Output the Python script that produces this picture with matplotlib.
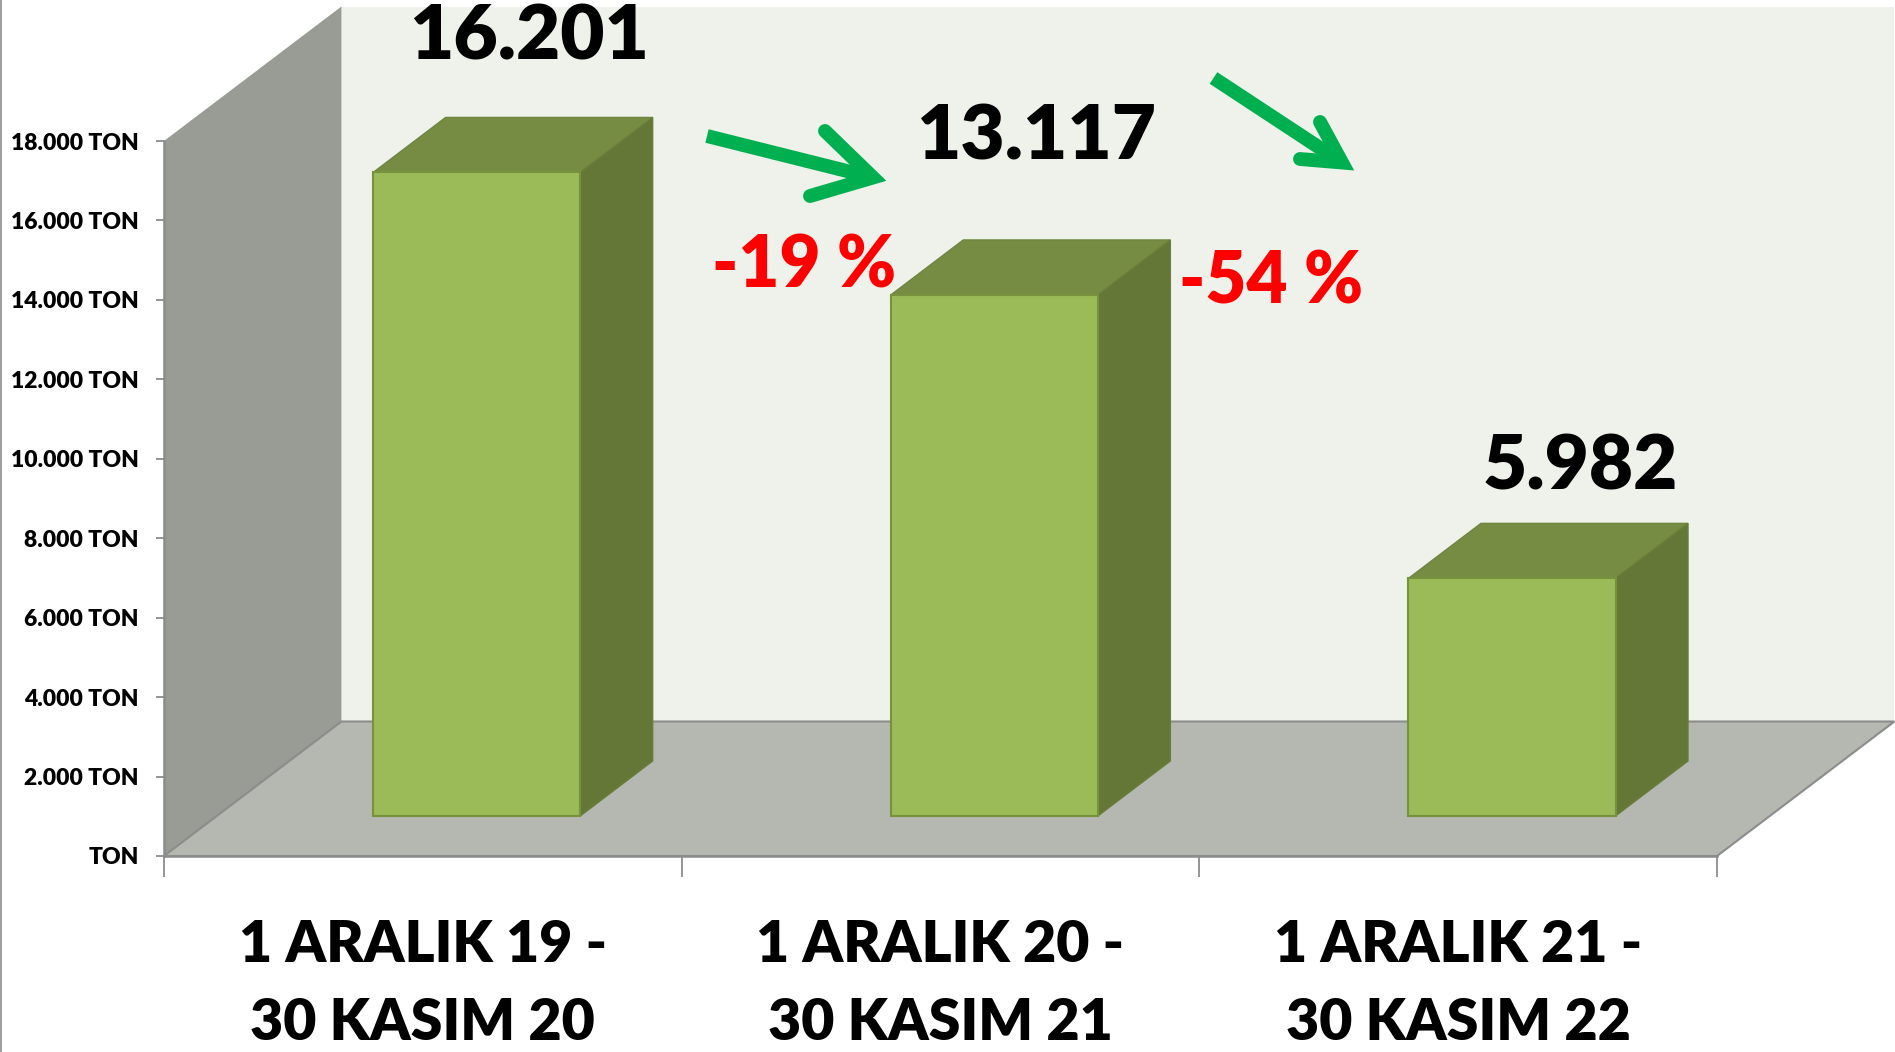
import matplotlib
matplotlib.use('Agg')
import matplotlib.pyplot as plt
from matplotlib.lines import Line2D
from matplotlib.patches import Polygon

plt.rcParams['font.family'] = ['Lato', 'DejaVu Sans']
plt.rcParams['font.weight'] = 'bold'

categories = ['1 ARALIK 19 -\n30 KASIM 20', '1 ARALIK 20 -\n30 KASIM 21', '1 ARALIK 21 -\n30 KASIM 22']
values = [16201, 13117, 5982]
y_ticks = [0, 2000, 4000, 6000, 8000, 10000, 12000, 14000, 16000, 18000]
y_labels = ['TON', '2.000 TON', '4.000 TON', '6.000 TON', '8.000 TON',
            '10.000 TON', '12.000 TON', '14.000 TON', '16.000 TON', '18.000 TON']
changes = ['-19 %', '-54 %']

W, H = 1895, 1052

# 3D look, in data units
ROOM_DX, ROOM_DY = 0.3427, 3386
BAR_DX, BAR_DY = 0.14, 1385
BAR_W, BAR_SHIFT, BAR_BASE = 0.4, 0.104, 1007


def fig_xy(px, py):
    return px / W, 1 - py / H


def draw_arrow(fig, start, tip, barb1, barb2):
    # shaft plus a mitred head with rounded barb ends
    green = '#00B050'
    fig.add_artist(Line2D([start[0] / W, tip[0] / W], [1 - start[1] / H, 1 - tip[1] / H],
                          color=green, lw=10, solid_capstyle='butt'))
    fig.add_artist(Line2D([barb1[0] / W, tip[0] / W, barb2[0] / W],
                          [1 - barb1[1] / H, 1 - tip[1] / H, 1 - barb2[1] / H],
                          color=green, lw=10, solid_capstyle='round', solid_joinstyle='miter'))


fig = plt.figure(figsize=(W / 100, H / 100), dpi=100)
ax = fig.add_axes([164 / W, 1 - 856 / H, (1717 - 164) / W, (856 - 141) / H])
ax.set_xlim(-0.5, 2.5)
ax.set_ylim(0, 18000)
ax.patch.set_visible(False)

x0, x1 = ax.get_xlim()
y1 = ax.get_ylim()[1]

# back wall, side wall, floor
ax.add_patch(Polygon([(x0 + ROOM_DX, ROOM_DY), (x1 + ROOM_DX, ROOM_DY),
                      (x1 + ROOM_DX, y1 + ROOM_DY), (x0 + ROOM_DX, y1 + ROOM_DY)],
                     facecolor='#EFF2EB', edgecolor='none', clip_on=False, zorder=0))
ax.add_patch(Polygon([(x0, 0), (x0 + ROOM_DX, ROOM_DY), (x0 + ROOM_DX, y1 + ROOM_DY), (x0, y1)],
                     facecolor='#999C94', edgecolor='none', clip_on=False, zorder=1))
ax.add_patch(Polygon([(x0, 0), (x1, 0), (x1 + ROOM_DX, ROOM_DY), (x0 + ROOM_DX, ROOM_DY)],
                     facecolor='#B5B8B0', edgecolor='#8C8C8C', lw=1.5, clip_on=False, zorder=1))

# bars
xs = [i + BAR_SHIFT for i in range(len(values))]
ax.bar(xs, values, width=BAR_W, bottom=BAR_BASE, color='#9BBB59', edgecolor='#76923C', linewidth=1.5, zorder=4)
for x, v in zip(xs, values):
    left, right = x - BAR_W / 2, x + BAR_W / 2
    top = BAR_BASE + v
    ax.add_patch(Polygon([(left, top), (right, top), (right + BAR_DX, top + BAR_DY), (left + BAR_DX, top + BAR_DY)],
                         facecolor='#768C43', edgecolor='#708540', lw=1, zorder=3, clip_on=False))
    ax.add_patch(Polygon([(right, BAR_BASE), (right + BAR_DX, BAR_BASE + BAR_DY),
                          (right + BAR_DX, top + BAR_DY), (right, top)],
                         facecolor='#647736', edgecolor='#6A7E3A', lw=1, zorder=3, clip_on=False))

# axes
for side in ['top', 'right']:
    ax.spines[side].set_visible(False)
for side in ['left', 'bottom']:
    ax.spines[side].set_color('#8C8C8C')
    ax.spines[side].set_linewidth(1.8)
    ax.spines[side].set_zorder(2)
ax.set_yticks(y_ticks)
ax.set_yticklabels(y_labels, fontsize=16.5, fontweight='heavy', color='black')
ax.tick_params(axis='y', length=6, width=1.3, color='#8C8C8C', pad=12)
ax.set_xticks(range(len(categories)))
ax.set_xticklabels(categories, fontsize=41.2, fontweight='heavy', color='black', linespacing=1.62)
ax.set_xticks([-0.5, 0.5, 1.5, 2.5], minor=True)
ax.tick_params(axis='x', which='major', length=0, pad=45)
ax.tick_params(axis='x', which='minor', length=15, width=1.3, color='#8C8C8C')

# value labels above the bars
label_pos = [(529, 60), (1036, 160), (1580, 489)]
for v, (px, py) in zip(values, label_pos):
    fx, fy = fig_xy(px, py)
    fig.text(fx, fy, f'{v:,}'.replace(',', '.'), fontsize=55, fontweight='heavy',
             color='black', ha='center', va='baseline')

# percent changes and arrows
change_pos = [(804, 288), (1271, 303)]
for s, (px, py) in zip(changes, change_pos):
    fx, fy = fig_xy(px, py)
    fig.text(fx, fy, s, fontsize=51, fontweight='heavy', color='#FF0000', ha='center', va='baseline')

draw_arrow(fig, (707, 136), (873, 177.5), (825, 131), (810, 196))
draw_arrow(fig, (1213.5, 78), (1342, 162.5), (1320, 122), (1300, 159))

# thin border down the left edge
fig.add_artist(Line2D([0.0005, 0.0005], [0, 1], color='#8C8C8C', lw=1.2))

fig.savefig('out.png', dpi=100)
